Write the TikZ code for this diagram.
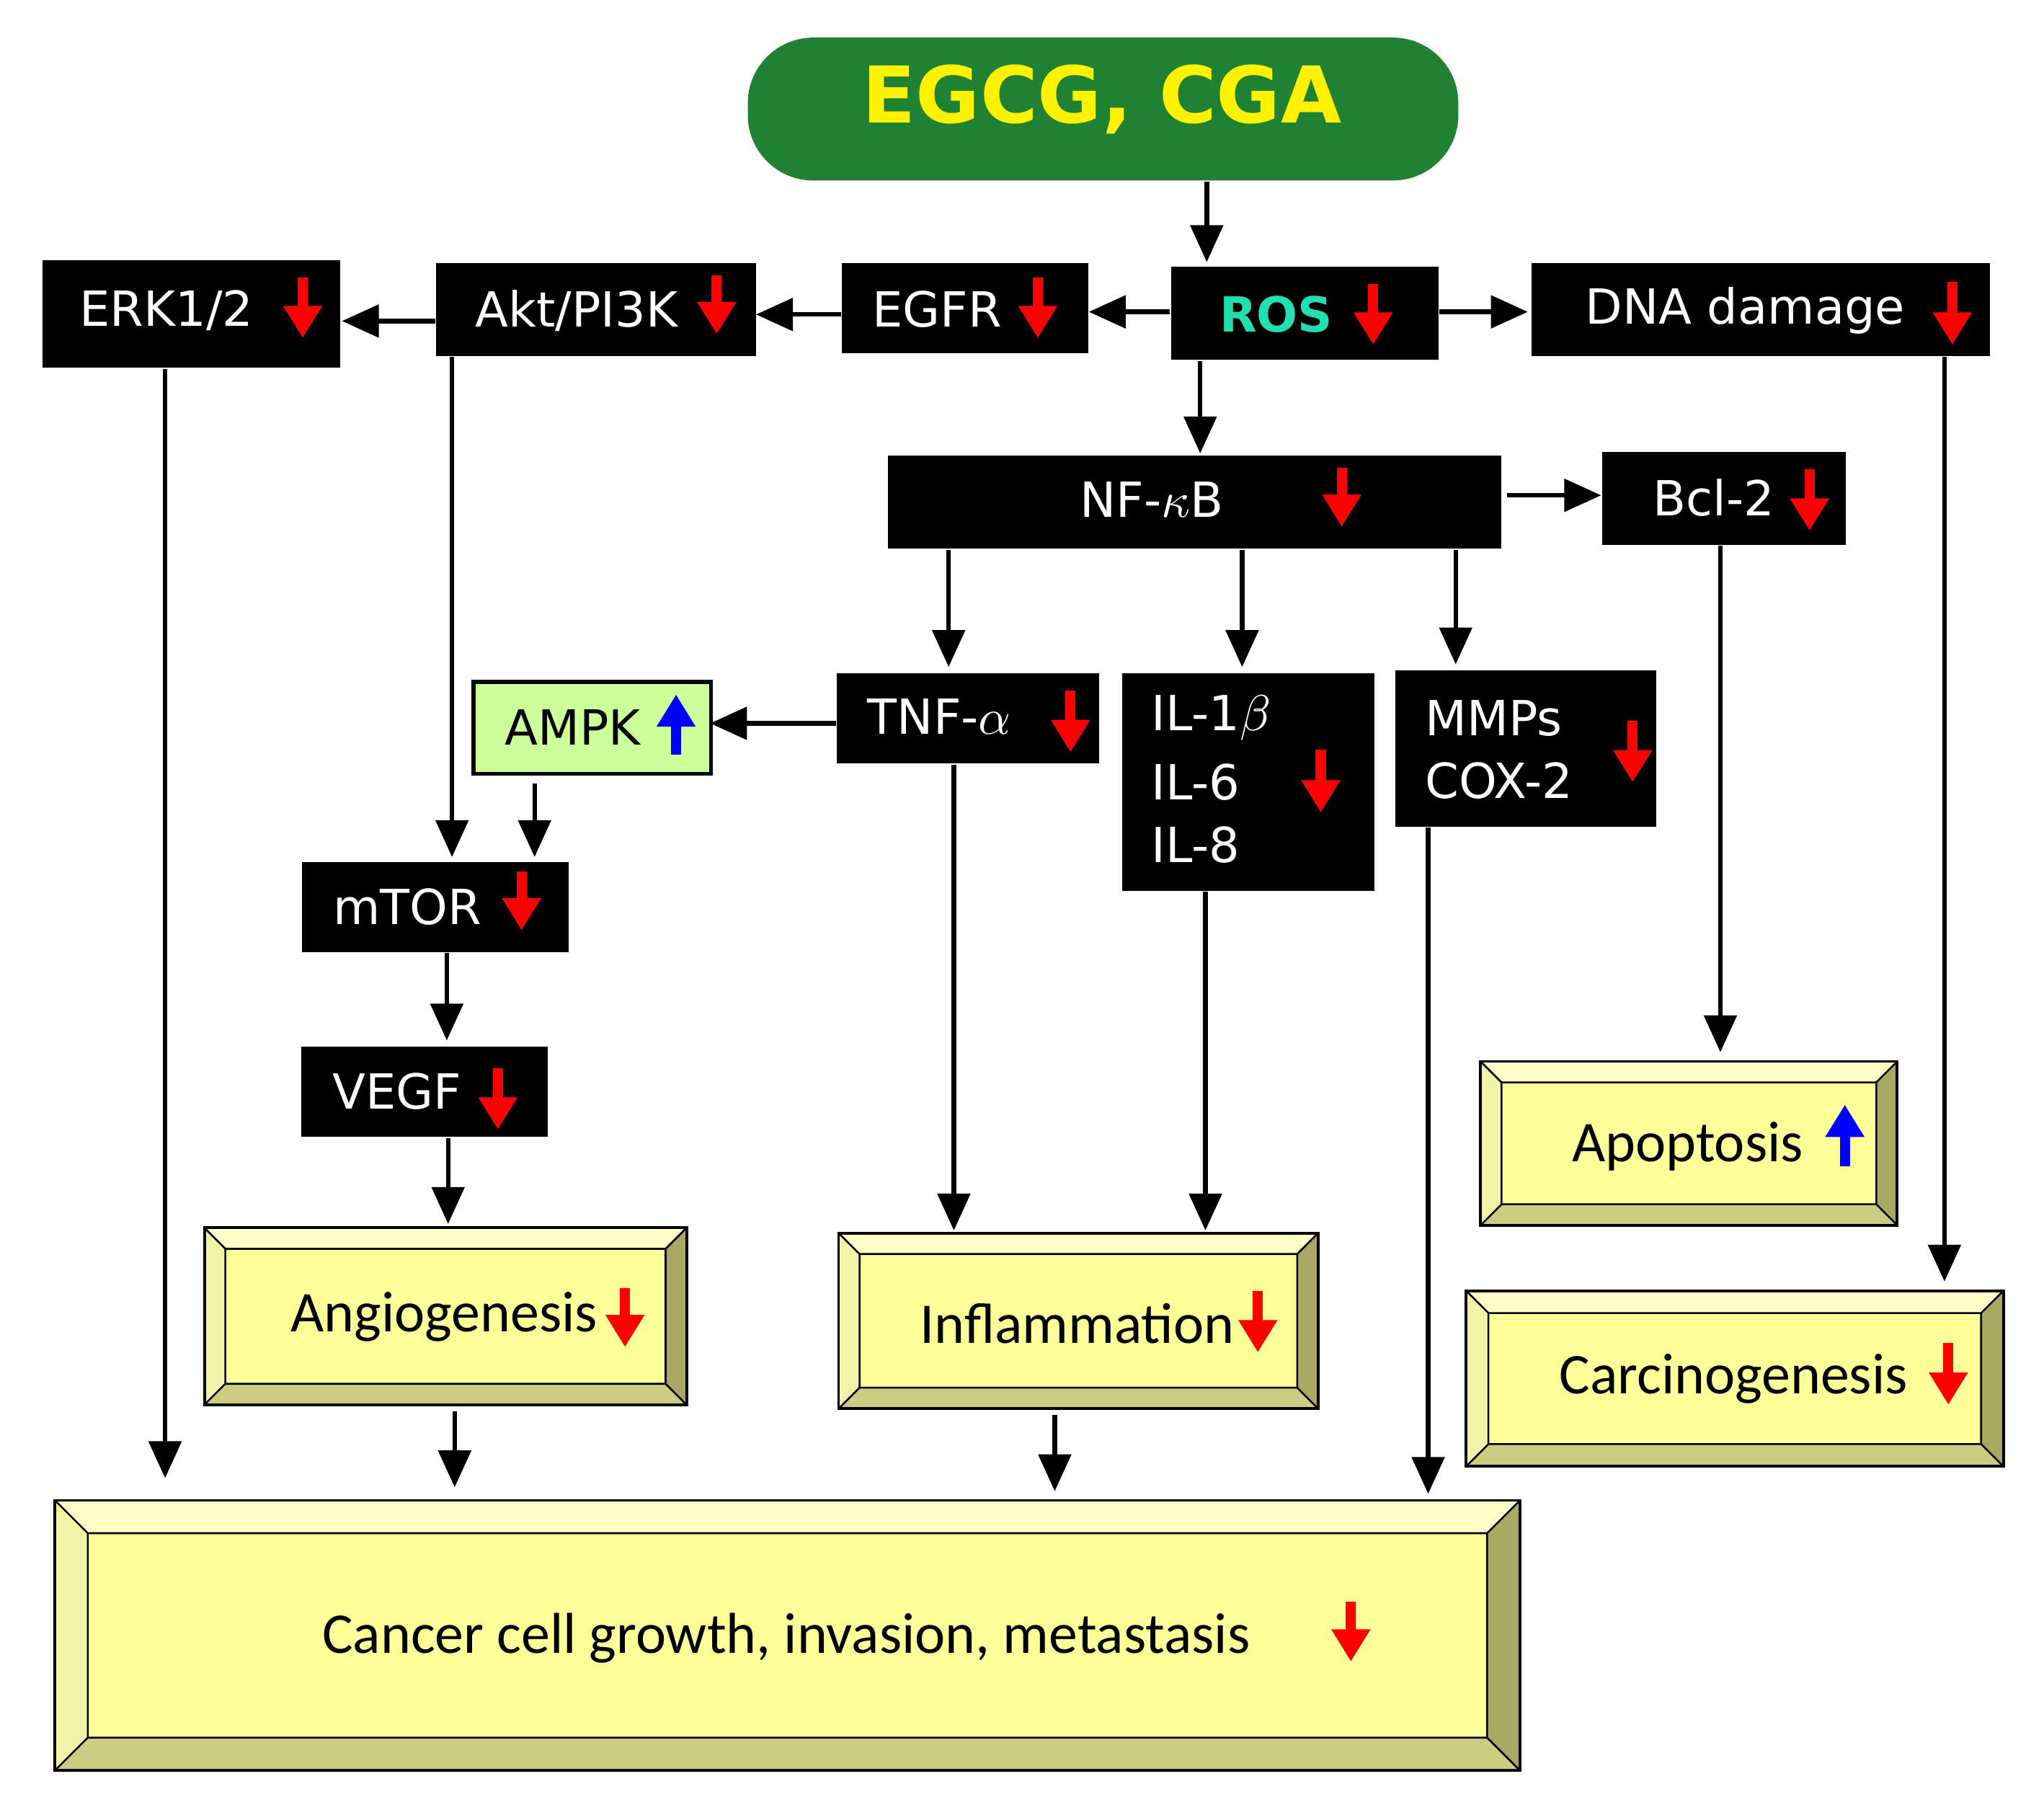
\documentclass[tikz,border=0pt]{standalone}
\usepackage{fontspec}
\setmainfont{DejaVu Sans}
\newfontfamily\carlfont{Carlito}
\usetikzlibrary{arrows.meta}
\definecolor{egreen}{HTML}{1E8232}
\definecolor{rosc}{HTML}{20E0B0}
\definecolor{ampkc}{HTML}{CCFF99}
\definecolor{bvin}{HTML}{FFFF99}
\definecolor{bvtop}{HTML}{FFFFC8}
\definecolor{bvleft}{HTML}{F2F2A8}
\definecolor{bvbot}{HTML}{CCCC80}
\definecolor{bvright}{HTML}{A8A862}
\newcommand\bevel[6]{% name x1 y1 x2 y2 d
  \fill[bvtop] (#2,#3) -- (#4,#3) -- (#4-#6,#3+#6) -- (#2+#6,#3+#6) -- cycle;
  \fill[bvleft] (#2,#3) -- (#2+#6,#3+#6) -- (#2+#6,#5-#6) -- (#2,#5) -- cycle;
  \fill[bvbot] (#2,#5) -- (#2+#6,#5-#6) -- (#4-#6,#5-#6) -- (#4,#5) -- cycle;
  \fill[bvright] (#4,#3) -- (#4,#5) -- (#4-#6,#5-#6) -- (#4-#6,#3+#6) -- cycle;
  \fill[bvin] (#2+#6,#3+#6) rectangle (#4-#6,#5-#6);
  \draw[line width=0.6pt] (#2,#3) rectangle (#4,#5);
  \draw[line width=0.4pt] (#2+#6,#3+#6) rectangle (#4-#6,#5-#6)
    (#2,#3) -- (#2+#6,#3+#6) (#4,#3) -- (#4-#6,#3+#6) (#2,#5) -- (#2+#6,#5-#6) (#4,#5) -- (#4-#6,#5-#6);
  \coordinate (#1) at ({(#2+#4)/2},{(#3+#5)/2});}
\tikzset{
  arr/.style={-{Triangle[length=8pt,width=7pt]}, line width=1pt},
  rd/.style={red, line width=2.2pt, -{Triangle[length=7pt,width=8pt]}},
  bu/.style={blue, line width=2.2pt, -{Triangle[length=7pt,width=8pt]}},
  wt/.style={text=white, font=\fontsize{10.5}{12}\selectfont, inner sep=0pt},
  bt/.style={text=black, font=\fontsize{10.5}{12}\selectfont, inner sep=0pt},
  ct/.style={text=black, font=\carlfont\fontsize{12.5}{14}\selectfont, inner sep=0pt},
}
\begin{document}
\begin{tikzpicture}[x=0.01cm,y=-0.01cm]
\useasboundingbox (0,0) rectangle (1560,1371);
% EGCG
\node[fill=egreen, rounded corners=0.5cm, minimum width=5.42cm, minimum height=1.09cm, anchor=north west, inner sep=0] (egcg) at (570,28) {};
\node[text=yellow, font=\bfseries\fontsize{17}{20}\selectfont, inner sep=0] at (841,76) {EGCG, CGA};
% black boxes
\node[fill=black,anchor=north west,minimum width=2.27cm,minimum height=0.82cm,inner sep=0] (erk) at (32,198) {};
\node[fill=black,anchor=north west,minimum width=2.44cm,minimum height=0.71cm,inner sep=0] (akt) at (332,200) {};
\node[fill=black,anchor=north west,minimum width=1.88cm,minimum height=0.69cm,inner sep=0] (egfr) at (642,200) {};
\node[fill=black,anchor=north west,minimum width=2.04cm,minimum height=0.71cm,inner sep=0] (ros) at (893,203) {};
\node[fill=black,anchor=north west,minimum width=3.50cm,minimum height=0.71cm,inner sep=0] (dna) at (1168,200) {};
\node[fill=black,anchor=north west,minimum width=4.68cm,minimum height=0.71cm,inner sep=0] (nfkb) at (677,347) {};
\node[fill=black,anchor=north west,minimum width=1.86cm,minimum height=0.71cm,inner sep=0] (bcl) at (1222,344) {};
\node[fill=black,anchor=north west,minimum width=2.00cm,minimum height=0.69cm,inner sep=0] (tnf) at (638,513) {};
\node[fill=black,anchor=north west,minimum width=1.92cm,minimum height=1.66cm,inner sep=0] (il) at (856,513) {};
\node[fill=black,anchor=north west,minimum width=1.99cm,minimum height=1.19cm,inner sep=0] (mmp) at (1064,511) {};
\node[fill=ampkc,draw=black,line width=0.8pt,anchor=north west,minimum width=1.81cm,minimum height=0.70cm,inner sep=0] (ampk) at (360,519) {};
\node[fill=black,anchor=north west,minimum width=2.03cm,minimum height=0.69cm,inner sep=0] (mtor) at (230,657) {};
\node[fill=black,anchor=north west,minimum width=1.88cm,minimum height=0.69cm,inner sep=0] (vegf) at (229,798) {};
% texts
\node[wt] at (127,237) {ERK1/2};
\node[wt] at (440,237) {Akt/PI3K};
\node[wt] at (715,236) {EGFR};
\node[text=rosc, font=\bfseries\fontsize{10.5}{12}\selectfont, inner sep=0] at (974,240) {ROS};
\node[wt] at (1332,237) {DNA damage};
\node[wt] at (879,381) {NF-$\kappa$B};
\node[wt] at (1308,380) {Bcl-2};
\node[wt] at (717,547) {TNF-$\alpha$};
\node[wt,anchor=west] at (878,548) {IL-1$\beta$};
\node[wt,anchor=west] at (878,597) {IL-6};
\node[wt,anchor=west] at (878,645) {IL-8};
\node[wt,anchor=west] at (1087,548) {MMPs};
\node[wt,anchor=west] at (1087,596) {COX-2};
\node[bt] at (437,555) {AMPK};
\node[wt] at (311,692) {mTOR};
\node[wt] at (303,833) {VEGF};
% bevel boxes
\bevel{ang}{156}{937}{524}{1072}{16}
\bevel{inf}{640}{941}{1006}{1075}{16}
\bevel{apo}{1130}{810}{1448}{935}{16}
\bevel{car}{1119}{985}{1529}{1119}{17}
\bevel{can}{42}{1145}{1160}{1351}{25}
\node[ct] at (339,1005) {Angiogenesis};
\node[ct] at (822,1010) {Inflammation};
\node[ct] at (1288,875) {Apoptosis};
\node[ct] at (1323,1052) {Carcinogenesis};
\node[ct] at (600,1250) {Cancer cell growth, invasion, metastasis};
% red / blue arrows
\foreach \x/\a/\b in {231/212/258,547/210/255,792/212/258,1048/217/263,1490/215/263,1024/357/402,1381/358/405,817/527/574,1008/572/620,1246/550/597,398/665/710,380/815/862,477/983/1028,960/985/1032,1487/1025/1072,1031/1222/1268}
  \draw[rd] (\x,\a) -- (\x,\b);
\draw[bu] (516,576) -- (516,530);
\draw[bu] (1408,890) -- (1408,843);
% connectors
\draw[arr] (egcg.south -| 921,0) -- (921,200);
\draw[arr] (ros.west |- 0,238) -- (831,238);
\draw[arr] (egfr.west |- 0,240) -- (577,240);
\draw[arr] (akt.west |- 0,245) -- (261,245);
\draw[arr] (ros.east |- 0,238) -- (1166,238);
\draw[arr] (ros.south -| 916,0) -- (916,346);
\draw[arr] (1150,378) -- (bcl.west |- 0,378);
\draw[arr] (nfkb.south -| 724,0) -- (724,509);
\draw[arr] (nfkb.south -| 948,0) -- (948,509);
\draw[arr] (nfkb.south -| 1111,0) -- (1111,507);
\draw[arr] (tnf.west |- 0,552) -- (542,552);
\draw[arr] (akt.south -| 345,0) -- (345,654);
\draw[arr] (408,598) -- (408,654);
\draw[arr] (mtor.south -| 341,0) -- (341,794);
\draw[arr] (vegf.south -| 342,0) -- (342,934);
\draw[arr] (tnf.south -| 728,0) -- (728,939);
\draw[arr] (il.south -| 920,0) -- (920,939);
\draw[arr] (bcl.south -| 1313,0) -- (1313,803);
\draw[arr] (dna.south -| 1484,0) -- (1484,978);
\coordinate (e1) at (126,1128);
\coordinate (e2) at (347,1135);
\coordinate (e3) at (805,1138);
\coordinate (e4) at (1090,1140);
\draw[arr] (erk.south -| e1) -- (e1);
\draw[arr] (347,1077) -- (e2);
\draw[arr] (805,1080) -- (e3);
\draw[arr] (mmp.south -| e4) -- (e4);
\end{tikzpicture}
\end{document}
